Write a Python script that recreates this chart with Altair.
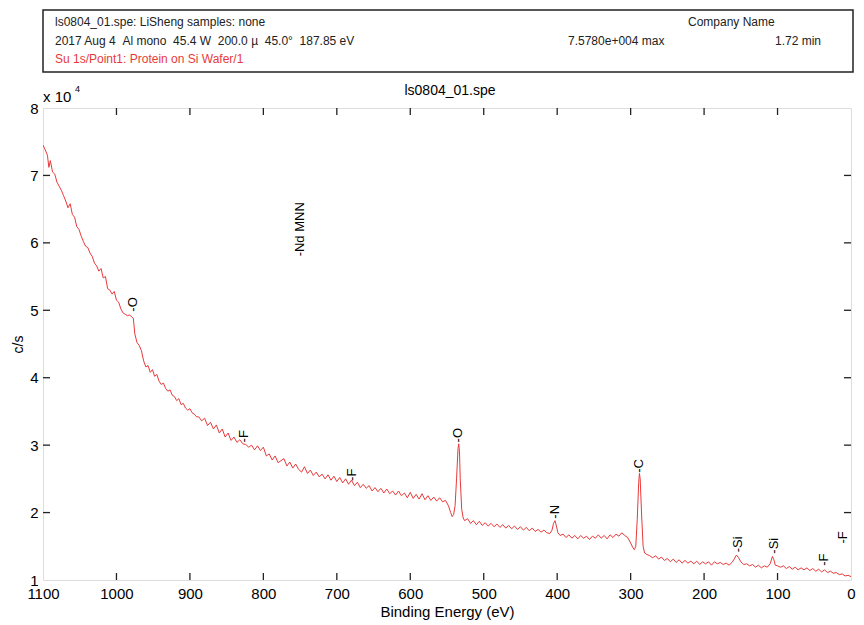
import altair as alt
import pandas as pd

energy = [
    1100, 1097, 1094, 1092, 1090, 1087, 1084, 1081, 1078, 1075, 1072, 1069, 1066, 1063, 1060, 1057, 1054,
    1051, 1048, 1045, 1042, 1039, 1036, 1033, 1030, 1027, 1024, 1021, 1018, 1015, 1012, 1009, 1006, 1003, 1000,
    997, 994, 991, 988, 985, 982, 979, 977, 975, 972, 969, 966, 963, 960, 957, 954, 951, 948, 945,
    942, 939, 936, 933, 930, 927, 924, 921, 918, 915, 912, 909, 906, 903, 900, 897, 894, 891, 888,
    884, 880, 876, 872, 868, 864, 860, 856, 852, 848, 844, 840, 836, 832, 828, 824, 820, 816, 812, 808,
    804, 800, 796, 792, 788, 784, 780, 776, 772, 768, 764, 760, 756, 752, 748, 744, 740, 736, 732, 728,
    724, 720, 716, 712, 708, 704, 700, 696, 692, 688, 684, 680, 676, 672, 668, 664, 660, 656, 652, 648,
    644, 640, 636, 632, 628, 624, 620, 616, 612, 608, 604, 600, 596, 592, 588, 584, 580, 576, 572, 568,
    564, 560,
    556, 552, 548, 545, 543, 541, 539, 537, 535, 534, 533, 532, 530, 528, 526,
    522, 518, 514, 510, 506, 502, 498, 494, 490, 486, 482, 478, 474, 470, 466, 462, 458, 454, 450, 446,
    442, 438, 434, 430, 426, 422, 418, 414, 410,
    407, 405, 403, 401, 399, 396,
    392, 388, 384, 380, 376, 372, 368, 364, 360, 356, 352, 348, 344, 340, 336, 332, 328, 324, 320, 316,
    312, 308, 304, 300,
    297, 295, 293, 291, 289, 288, 287, 285, 283, 281, 278,
    274, 270, 266, 262, 258, 254, 250, 246, 242, 238, 234, 230, 226, 222, 218, 214, 210, 206, 202, 198,
    194, 190, 186, 182, 178, 174, 170, 166, 162,
    159, 156, 153, 150,
    146, 142, 138, 134, 130, 126, 122, 118, 114, 110,
    107, 105, 103,
    100, 96, 92, 88, 84, 80, 76, 72, 68, 64, 60, 56, 52, 48, 44, 40, 36, 32, 28, 24,
    20, 16, 12, 8, 4, 0,
]

counts = [
    7.45, 7.38, 7.30, 7.12, 7.22, 7.05, 7.02, 6.90, 6.84, 6.78, 6.70, 6.62, 6.52, 6.58, 6.42, 6.38, 6.24,
    6.20, 6.10, 6.02, 5.95, 5.93, 5.85, 5.80, 5.70, 5.66, 5.58, 5.62, 5.48, 5.50, 5.32, 5.30, 5.24, 5.28, 5.15,
    5.12, 5.02, 4.96, 4.94, 4.92, 4.93, 4.90, 4.88, 4.65, 4.52, 4.48, 4.40, 4.25, 4.16, 4.18, 4.08, 4.12, 4.02, 4.05,
    3.95, 3.90, 3.92, 3.84, 3.80, 3.82, 3.74, 3.72, 3.66, 3.69, 3.60, 3.62, 3.55, 3.52, 3.54, 3.48, 3.46, 3.42, 3.42,
    3.36, 3.40, 3.29, 3.34, 3.24, 3.30, 3.18, 3.24, 3.12, 3.18, 3.07, 3.12, 3.04, 3.08, 3.02, 3.01, 2.97, 3.00, 2.93, 2.99,
    2.92, 2.97, 2.84, 2.87, 2.78, 2.84, 2.74, 2.77, 2.80, 2.69, 2.75, 2.66, 2.72, 2.64, 2.60, 2.68, 2.58, 2.63, 2.55, 2.60,
    2.53, 2.57, 2.50, 2.56, 2.48, 2.54, 2.46, 2.52, 2.44, 2.50, 2.42, 2.48, 2.40, 2.45, 2.37, 2.42, 2.36, 2.40, 2.32, 2.37,
    2.31, 2.36, 2.29, 2.35, 2.28, 2.32, 2.26, 2.32, 2.25, 2.29, 2.22, 2.30, 2.21, 2.27, 2.20, 2.28, 2.19, 2.25, 2.18, 2.23,
    2.17, 2.22,
    2.16, 2.18, 2.10, 2.00, 1.94, 1.97, 2.10, 2.50, 2.95, 3.02, 2.90, 2.50, 2.05, 1.92, 1.88,
    1.91, 1.84, 1.88, 1.82, 1.87, 1.81, 1.85, 1.80, 1.84, 1.79, 1.83, 1.78, 1.82, 1.77, 1.81, 1.76, 1.80, 1.75, 1.79, 1.74,
    1.78, 1.73, 1.77, 1.72, 1.75, 1.71, 1.74, 1.70, 1.69,
    1.74, 1.84, 1.88, 1.80, 1.70, 1.66,
    1.68, 1.63, 1.67, 1.62, 1.66, 1.61, 1.66, 1.62, 1.65, 1.60, 1.65, 1.62, 1.67, 1.62, 1.66, 1.61, 1.67, 1.63, 1.68, 1.65,
    1.70, 1.66, 1.63, 1.55,
    1.48, 1.45, 1.50, 1.90, 2.45, 2.58, 2.50, 1.95, 1.50, 1.40, 1.38,
    1.36, 1.33, 1.36, 1.31, 1.34, 1.29, 1.32, 1.27, 1.31, 1.26, 1.30, 1.25, 1.29, 1.25, 1.28, 1.24, 1.28, 1.23, 1.27, 1.24,
    1.27, 1.22, 1.27, 1.24, 1.26, 1.23, 1.25, 1.22, 1.26,
    1.31, 1.37, 1.33, 1.27,
    1.23, 1.24, 1.21, 1.23, 1.19, 1.22, 1.18, 1.21, 1.19, 1.24,
    1.35, 1.30, 1.22,
    1.21, 1.19, 1.21, 1.17, 1.20, 1.16, 1.19, 1.15, 1.18, 1.15, 1.18, 1.14, 1.17, 1.13, 1.16, 1.12, 1.15, 1.11, 1.13, 1.10,
    1.11, 1.08, 1.09, 1.06, 1.07, 1.05,
]

peak_labels = ["-O", "-F", "-F", "-O", "-N", "-C", "-Si", "-Si", "-F", "-F", "-Nd MNN"]
peak_energy = [978, 826, 680, 534.7, 402.5, 288, 153.7, 104.4, 37.3, 10.3, 750]
peak_y = [4.98, 3.04, 2.47, 3.04, 1.91, 2.59, 1.41, 1.39, 1.21, 1.54, 5.80]

x_ticks = [1100, 1000, 900, 800, 700, 600, 500, 400, 300, 200, 100, 0]
y_ticks = [1, 2, 3, 4, 5, 6, 7, 8]
x_minor = [1000, 900, 800, 700, 600, 500, 400, 300, 200, 100]
y_minor = [2, 3, 4, 5, 6, 7]

W, H = 808, 472
FONT = "Liberation Sans"
RED = "#e8393a"
NB = "\u00a0"

spec_df = pd.DataFrame({"E": energy, "c": counts})
peak_df = pd.DataFrame({"E": peak_energy, "c": peak_y, "t": peak_labels})
xt_df = pd.DataFrame({"E": x_minor})
yt_df = pd.DataFrame({"c": y_minor})
one = pd.DataFrame({"a": [0]})

xscale = alt.Scale(domain=[0, 1100], reverse=True, nice=False, zero=False)
yscale = alt.Scale(domain=[1, 8], nice=False, zero=False)

xaxis = alt.Axis(values=x_ticks, title="Binding Energy (eV)", format="d",
                 ticks=False, tickSize=0, domain=False, grid=False,
                 labelFontSize=15, labelPadding=6, titleFontSize=15,
                 titleFontWeight="normal", titlePadding=3, labelFlush=False)
yaxis = alt.Axis(values=y_ticks, title="c/s", format="d",
                 ticks=False, tickSize=0, domain=False, grid=False,
                 labelFontSize=15, labelPadding=5, titleFontSize=14,
                 titleFontWeight="normal", titlePadding=4, labelFlush=False)

X = alt.X("E:Q", scale=xscale, axis=xaxis)
Y = alt.Y("c:Q", scale=yscale, axis=yaxis)

line = alt.Chart(spec_df).mark_line(color=RED, strokeWidth=1, clip=True).encode(x=X, y=Y)

labels = alt.Chart(peak_df).mark_text(angle=270, align="left", baseline="middle",
                                      fontSize=13, font=FONT, color="black").encode(
    x=X, y=Y, text="t:N")

tk = 7
xt_bot = alt.Chart(xt_df).mark_rule(color="#222222", strokeWidth=1.3).encode(
    x=X, y=alt.value(H), y2=alt.value(H - tk))
xt_top = alt.Chart(xt_df).mark_rule(color="#222222", strokeWidth=1.3).encode(
    x=X, y=alt.value(0), y2=alt.value(tk))
yt_left = alt.Chart(yt_df).mark_rule(color="#222222", strokeWidth=1.3).encode(
    y=Y, x=alt.value(0), x2=alt.value(tk))
yt_right = alt.Chart(yt_df).mark_rule(color="#222222", strokeWidth=1.3).encode(
    y=Y, x=alt.value(W), x2=alt.value(W - tk))

box = alt.Chart(one).mark_rect(fill="white", stroke="#222222", strokeWidth=1.5, clip=False).encode(
    x=alt.value(0), x2=alt.value(W + 2), y=alt.value(-98), y2=alt.value(-36))


def txt(s, x, y, size=12, color="#222222", align="left", baseline="middle"):
    return alt.Chart(one).mark_text(text=s, fontSize=size, font=FONT, color=color,
                                    align=align, baseline=baseline, clip=False).encode(
        x=alt.value(x), y=alt.value(y))


line2 = ("2017 Aug 4" + NB * 2 + "Al mono" + NB * 2 + "45.4 W" + NB * 2 + "200.0 \u00b5"
         + NB * 2 + "45.0\u00b0" + NB * 2 + "187.85 eV")

header = [
    txt("ls0804_01.spe: LiSheng samples: none", 12, -86),
    txt("Company Name", 645, -86),
    txt(line2, 12, -67),
    txt("7.5780e+004 max", 525, -67),
    txt("1.72 min", 732, -67),
    txt("Su 1s/Point1: Protein on Si Wafer/1", 12, -49, color=RED),
    txt("ls0804_01.spe", 407, -17, size=14, color="black", align="center"),
    txt("x 10", 0, -11, size=15, color="black"),
    txt("4", 32, -19, size=9, color="black"),
]

chart = alt.layer(line, box, *header, xt_bot, xt_top, yt_left, yt_right, labels).properties(
    width=W, height=H,
    autosize=alt.AutoSizeParams(type="none"),
    padding={"left": 35, "top": 100, "right": 5, "bottom": 40},
).configure_view(stroke="#222222", strokeWidth=1.5).configure(
    font=FONT
).configure_axis(labelColor="black", titleColor="black", labelFont=FONT, titleFont=FONT)

chart.save("out.html", embed_options={"renderer": "svg", "actions": False})
